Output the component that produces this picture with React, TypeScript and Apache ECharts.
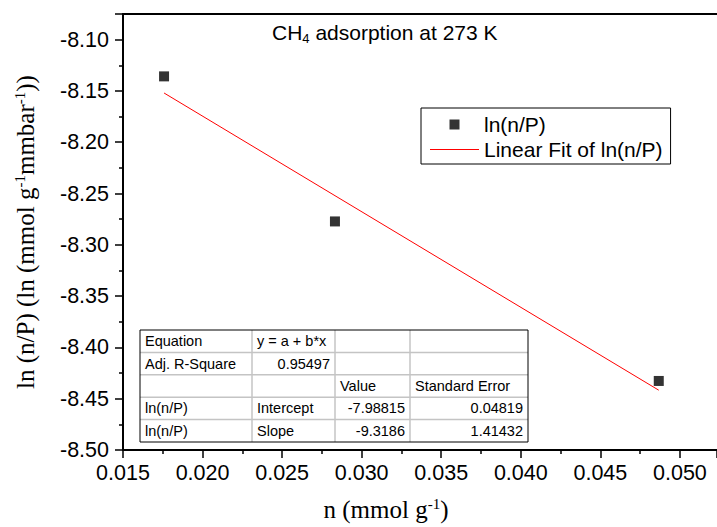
import React, { useEffect, useRef } from 'react';
import * as echarts from 'echarts';

// ---- data ----
const nValues = [0.01758, 0.02832, 0.04867];
const lnValues = [-8.1358, -8.2772, -8.4327];
const fitX = [0.01758, 0.04867];
const fitY = [-8.152, -8.4417];
const xMin = 0.015;
const xMax = 0.05233;
const xInterval = 0.005;
const yMin = -8.5;
const yMax = -8.075;
const yInterval = 0.05;
const seriesName = 'ln(n/P)';
const fitName = 'Linear Fit of ln(n/P)';
const tableRows = [
  ['Equation', 'y = a + b*x', '', ''],
  ['Adj. R-Square', '0.95497', '', ''],
  ['', '', 'Value', 'Standard Error'],
  ['ln(n/P)', 'Intercept', '-7.98815', '0.04819'],
  ['ln(n/P)', 'Slope', '-9.3186', '1.41432'],
];

const SANS = 'Liberation Sans, Arial, Helvetica, sans-serif';
const SERIF = 'Liberation Serif, Times New Roman, serif';

const isMultiple = (v: number, step: number) =>
  Math.abs(v / step - Math.round(v / step)) < 1e-6;

function buildTable() {
  const colX = [140, 252, 335, 410, 528];
  const rowY = [330, 352.4, 374.8, 397.2, 419.6, 442];
  const els: any[] = [];
  els.push({
    type: 'rect',
    z: 50,
    shape: { x: colX[0], y: rowY[0], width: colX[4] - colX[0], height: rowY[5] - rowY[0] },
    style: { fill: '#fff', stroke: 'none' },
  });
  for (let i = 1; i < rowY.length - 1; i++) {
    els.push({
      type: 'line',
      z: 51,
      shape: { x1: colX[0], y1: rowY[i], x2: colX[4], y2: rowY[i] },
      style: { stroke: '#c4c4c4', lineWidth: 1.5 },
    });
  }
  for (let i = 1; i < colX.length - 1; i++) {
    els.push({
      type: 'line',
      z: 51,
      shape: { x1: colX[i], y1: rowY[0], x2: colX[i], y2: rowY[5] },
      style: { stroke: '#c4c4c4', lineWidth: 1.5 },
    });
  }
  els.push({
    type: 'rect',
    z: 52,
    shape: { x: colX[0], y: rowY[0], width: colX[4] - colX[0], height: rowY[5] - rowY[0] },
    style: { fill: 'none', stroke: '#000', lineWidth: 1 },
  });
  tableRows.forEach((row, r) => {
    row.forEach((txt, c) => {
      if (!txt) return;
      const numeric = !isNaN(Number(txt));
      els.push({
        type: 'text',
        z: 53,
        x: numeric ? colX[c + 1] - 5 : colX[c] + 5,
        y: (rowY[r] + rowY[r + 1]) / 2,
        style: {
          text: txt,
          fill: '#000',
          font: `14.5px ${SANS}`,
          textAlign: numeric ? 'right' : 'left',
          textVerticalAlign: 'middle',
        },
      });
    });
  });
  return els;
}

const App = () => {
  const ref = useRef<HTMLDivElement>(null);
  useEffect(() => {
    const chart = echarts.init(ref.current!, null, { renderer: 'svg' });
    const axisLine = { show: true, onZero: false, lineStyle: { color: '#000', width: 2 } };
    const option: any = {
      animation: false,
      backgroundColor: '#fff',
      grid: { left: 123, right: 0, top: 14, bottom: 75, containLabel: false },
      legend: {
        orient: 'vertical',
        left: 421,
        top: 108,
        padding: [5, 8, 3, 9],
        itemGap: 2,
        itemWidth: 49,
        itemHeight: 10,
        borderColor: '#000',
        borderWidth: 1,
        symbolKeepAspect: true,
        textStyle: { fontSize: 21, fontFamily: SANS, color: '#000', lineHeight: 23 },
        data: [
          { name: seriesName, icon: 'path://M0,0H10V10H0Z' },
          { name: fitName, icon: 'path://M0,0H49V1.2H0Z' },
        ],
      },
      xAxis: [
        {
          type: 'value',
          min: xMin,
          max: xMax,
          interval: xInterval,
          axisLine,
          axisTick: { show: true, inside: false, length: 8, lineStyle: { color: '#000', width: 1.5 } },
          minorTick: { show: true, splitNumber: 2, length: 4, lineStyle: { color: '#000', width: 1.5 } },
          splitLine: { show: false },
          axisLabel: {
            show: true,
            margin: 12,
            fontSize: 21.5,
            fontFamily: SANS,
            color: '#000',
            showMaxLabel: false,
            formatter: (v: number) => (isMultiple(v, xInterval) ? v.toFixed(3) : ''),
          },
          name: '{m|n (mmol g}{s|-1}{m|)}',
          nameLocation: 'middle',
          nameGap: 46,
          nameTextStyle: {
            padding: [0, 68, 0, 0],
            rich: {
              m: { fontSize: 25, fontFamily: SERIF, color: '#000' },
              s: { fontSize: 15, fontFamily: SERIF, color: '#000', padding: [0, 0, 12, 0] },
            },
          },
        },
        {
          type: 'value',
          position: 'top',
          min: xMin,
          max: xMax,
          axisLine,
          axisTick: { show: false },
          axisLabel: { show: false },
          splitLine: { show: false },
        },
      ],
      yAxis: {
        type: 'value',
        min: yMin,
        max: yMax,
        interval: yInterval,
        axisLine,
        axisTick: { show: true, inside: false, length: 8, lineStyle: { color: '#000', width: 1.5 } },
        minorTick: { show: true, splitNumber: 2, length: 4, lineStyle: { color: '#000', width: 1.5 } },
        splitLine: { show: false },
        axisLabel: {
          show: true,
          margin: 14,
          fontSize: 21.5,
          fontFamily: SANS,
          color: '#000',
          showMaxLabel: false,
          formatter: (v: number) => (isMultiple(v, yInterval) ? v.toFixed(2) : ''),
        },
        name: '{m|ln (n/P) (ln (mmol g}{s|-1}{m|mmbar}{s|-1}{m|))}',
        nameLocation: 'middle',
        nameRotate: 90,
        nameGap: 84,
        nameTextStyle: {
          rich: {
            m: { fontSize: 25, fontFamily: SERIF, color: '#000' },
            s: { fontSize: 15, fontFamily: SERIF, color: '#000', padding: [0, 0, 12, 0] },
          },
        },
      },
      series: [
        {
          name: seriesName,
          type: 'scatter',
          symbol: 'rect',
          symbolSize: 10,
          itemStyle: { color: '#000' },
          data: nValues.map((x, i) => [x, lnValues[i]]),
          z: 3,
        },
        {
          name: fitName,
          type: 'line',
          symbol: 'none',
          showSymbol: false,
          lineStyle: { color: '#ff0000', width: 1 },
          itemStyle: { color: '#ff0000' },
          data: fitX.map((x, i) => [x, fitY[i]]),
          z: 2,
        },
      ],
      graphic: [
        {
          type: 'text',
          left: 272,
          top: 22,
          style: {
            text: '{m|CH}{s|4}{m| adsorption at 273 K}',
            rich: {
              m: { fontSize: 21, fontFamily: SANS, fill: '#000' },
              s: { fontSize: 13, fontFamily: SANS, fill: '#000', padding: [12, 0, 0, 0] },
            },
          },
        },
        ...buildTable(),
      ],
    };
    chart.setOption(option);
    return () => chart.dispose();
  }, []);
  return (
    <div
      ref={ref}
      style={{ position: 'fixed', left: 0, top: 0, width: 717, height: 527, background: '#fff' }}
    />
  );
};

export default App;
